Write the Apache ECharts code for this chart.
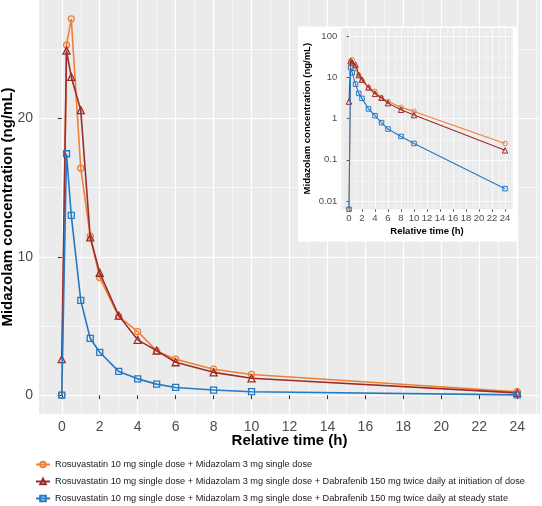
<!DOCTYPE html>
<html><head><meta charset="utf-8">
<script src="https://cdn.jsdelivr.net/npm/echarts@6/dist/echarts.min.js"></script>
<style>html,body{margin:0;padding:0;background:#fff}#c{width:542px;height:506px}</style>
</head><body><div id="c"></div>
<script>
const times = [0, 0.25, 0.5, 1, 1.5, 2, 3, 4, 5, 6, 8, 10, 24];
const rosuAlone = [0, 25.3, 27.2, 16.4, 11.5, 8.5, 5.7, 4.6, 3.2, 2.6, 1.88, 1.5, 0.25];
const dabInit = [2.6, 24.9, 23.0, 20.6, 11.4, 8.85, 5.75, 4.0, 3.22, 2.38, 1.65, 1.22, 0.17];
const dabSteady = [0, 17.45, 13.0, 6.85, 4.1, 3.1, 1.72, 1.18, 0.8, 0.56, 0.37, 0.25, 0.02];
const seriesNames = [
  'Rosuvastatin 10 mg single dose + Midazolam 3 mg single dose',
  'Rosuvastatin 10 mg single dose + Midazolam 3 mg single dose + Dabrafenib 150 mg twice daily at initiation of dose',
  'Rosuvastatin 10 mg single dose + Midazolam 3 mg single dose + Dabrafenib 150 mg twice daily at steady state'
];
const xTicks = [0,2,4,6,8,10,12,14,16,18,20,22,24];
const xMinor = [-1,1,3,5,7,9,11,13,15,17,19,21,23,25];
const yTicks = [0, 10, 20];
const yMinor = [5, 15, 25];
const logTicks = [0.01, 0.1, 1, 10, 100];
const logMinor = [0.0316228, 0.316228, 3.16228, 31.6228];

const colors = ['#EF7F35', '#9C2B2B', '#2479C4'];
const symbols = ['circle', 'triangle', 'rect'];
const valueSets = [rosuAlone, dabInit, dabSteady];
const FONT = 'Liberation Sans, Arial, sans-serif';
const LOG_MIN = Math.pow(10, -2.2), LOG_MAX = Math.pow(10, 2.2);

const chart = echarts.init(document.getElementById('c'), null, {renderer: 'canvas'});

function xAxisCfg(gridIndex, minor, fs, small) {
  return {
    type: 'value', gridIndex, min: -1.2, max: 25.2,
    axisLine: {show: false},
    axisTick: {show: !minor, length: small ? 2.5 : 4, lineStyle: {color: '#333', width: small ? 0.8 : 1}, customValues: minor ? xMinor : xTicks},
    axisLabel: {show: !minor, customValues: xTicks, color: '#4d4d4d', fontSize: fs, fontFamily: FONT, margin: small ? 4 : 6},
    splitLine: {show: true, lineStyle: {color: '#fff', width: minor ? (small ? 0.4 : 0.6) : (small ? 0.8 : 1.2)}},
    name: minor ? '' : 'Relative time (h)',
    nameLocation: 'middle', nameGap: small ? 17 : 19.5, nameMoveOverlap: false,
    nameTextStyle: {fontWeight: 'bold', fontSize: small ? 9.5 : 15, color: '#000', fontFamily: FONT},
    z: gridIndex === 1 ? 3 : 0
  };
}

const option = {
  animation: false,
  backgroundColor: '#fff',
  graphic: [{
    type: 'rect', shape: {x: 298, y: 26.5, width: 220, height: 215}, style: {fill: '#fff'}, z: 1, silent: true
  }],
  grid: [
    {left: 39, right: 2, top: 0, height: 414, show: true, backgroundColor: '#EBEBEB', borderWidth: 0, z: 0, outerBoundsMode: 'none', containLabel: false},
    {left: 341.2, width: 171.6, top: 28, height: 181.3, show: true, backgroundColor: '#EBEBEB', borderWidth: 0, z: 2, outerBoundsMode: 'none', containLabel: false}
  ],
  xAxis: [
    xAxisCfg(0, false, 14, false),
    xAxisCfg(0, true, 14, false),
    xAxisCfg(1, false, 9.5, true),
    xAxisCfg(1, true, 9.5, true)
  ],
  yAxis: [
    {
      type: 'value', gridIndex: 0, min: -1.36, max: 28.56,
      axisLine: {show: false},
      axisTick: {length: 4, lineStyle: {color: '#333'}, customValues: yTicks},
      axisLabel: {customValues: yTicks, color: '#4d4d4d', fontSize: 14, fontFamily: FONT, margin: 6},
      splitLine: {lineStyle: {color: '#fff', width: 1.2}},
      name: 'Midazolam concentration (ng/mL)', nameLocation: 'middle', nameGap: 24, nameMoveOverlap: false,
      nameTextStyle: {fontWeight: 'bold', fontSize: 15, color: '#000', fontFamily: FONT}
    },
    {
      type: 'value', gridIndex: 0, min: -1.36, max: 28.56,
      axisLine: {show: false}, axisTick: {show: false, customValues: yMinor}, axisLabel: {show: false},
      splitLine: {lineStyle: {color: '#fff', width: 0.6}}
    },
    {
      type: 'log', gridIndex: 1, min: LOG_MIN, max: LOG_MAX, logBase: 10, z: 3,
      axisLine: {show: false},
      axisTick: {length: 2.5, lineStyle: {color: '#333', width: 0.8}, customValues: logTicks},
      axisLabel: {customValues: logTicks, color: '#4d4d4d', fontSize: 9.5, fontFamily: FONT, margin: 4,
        formatter: v => String(+(+v).toPrecision(3))},
      splitLine: {lineStyle: {color: '#fff', width: 0.8}},
      name: 'Midazolam concentration (ng/mL)', nameLocation: 'middle', nameGap: 29, nameMoveOverlap: false,
      nameTextStyle: {fontWeight: 'bold', fontSize: 9.5, color: '#000', fontFamily: FONT}
    },
    {
      type: 'log', gridIndex: 1, min: LOG_MIN, max: LOG_MAX, logBase: 10, z: 3,
      axisLine: {show: false}, axisTick: {show: false, customValues: logMinor}, axisLabel: {show: false},
      splitLine: {lineStyle: {color: '#fff', width: 0.4}}
    }
  ],
  legend: {
    orient: 'vertical', left: 35, top: 459, height: 47, padding: 0, itemWidth: 14, itemHeight: 7, itemGap: 6,
    textStyle: {fontSize: 9.2, color: '#1a1a1a', fontFamily: FONT, lineHeight: 11},
    data: seriesNames
  },
  series: []
};

valueSets.forEach((vals, i) => {
  option.series.push({
    name: seriesNames[i], type: 'line', xAxisIndex: 0, yAxisIndex: 0,
    data: times.map((t, k) => [t, vals[k]]),
    symbol: symbols[i], symbolSize: i === 1 ? 7 : 6,
    lineStyle: {color: colors[i], width: 1.6},
    itemStyle: {color: colors[i], borderColor: colors[i], borderWidth: 1.3},
    z: 2 + i
  });
});
valueSets.forEach((vals, i) => {
  option.series.push({
    name: seriesNames[i] + ' (log)', type: 'line', xAxisIndex: 2, yAxisIndex: 2,
    data: times.map((t, k) => [t, vals[k] > 0 ? vals[k] : LOG_MIN]),
    symbol: symbols[i], symbolSize: i === 1 ? 5.5 : 4.5,
    lineStyle: {color: colors[i], width: 1.1},
    itemStyle: {color: colors[i], borderColor: colors[i], borderWidth: 1},
    z: 6 + i
  });
});
option.series.forEach(s => { s.itemStyle.color = 'rgba(0,0,0,0)'; s.emphasis = {disabled: true}; });

chart.setOption(option);
</script></body></html>
